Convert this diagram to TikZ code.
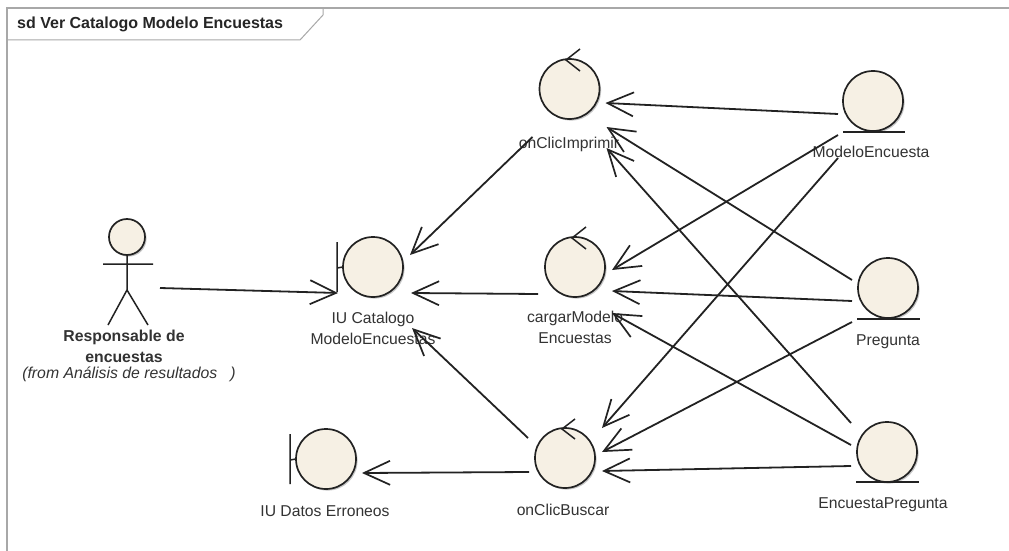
\documentclass[tikz,border=0pt]{standalone}
\usepackage{fontspec}
\setmainfont{Liberation Sans}
\usetikzlibrary{arrows.meta}
\definecolor{fillc}{HTML}{F6F0E4}
\definecolor{linec}{HTML}{222222}
\definecolor{textc}{HTML}{333333}
\definecolor{framec}{HTML}{A8A8A8}
\tikzset{
  ball/.style={circle,draw=linec,line width=1.7pt,fill=fillc,minimum size=60pt,inner sep=0pt,outer sep=0pt,
    preaction={draw=none,fill=black!22,transform canvas={shift={(1.6pt,-1.6pt)}}}},
  head/.style={ball,minimum size=36pt},
  lab/.style={text=textc,font=\fontsize{15.7pt}{18pt}\selectfont,inner sep=0pt,align=center},
  boldlab/.style={lab,font=\fontsize{15.8pt}{21pt}\selectfont\bfseries},
  deco/.style={draw=linec,line width=1.5pt},
  conn/.style={draw=linec,line width=1.8pt,-{Straight Barb[length=26pt,width=24pt,line width=1.7pt]}},
}
\begin{document}
\begin{tikzpicture}[x=1pt,y=-1pt]
\useasboundingbox (0,0) rectangle (1009,551);
\fill[white] (0,0) rectangle (1009,551);
% frame
\coordinate (fa) at (7,551);
\coordinate (fb) at (7,8);
\coordinate (fc) at (1009,8);
\coordinate (ta) at (323,8);
\coordinate (tb) at (323,15);
\coordinate (tc) at (300,40);
\coordinate (td) at (7,40);
\draw[framec,line width=1.2pt] (fa) -- (fb) -- (fc);
\draw[framec,line width=1pt] (ta) -- (tb) -- (tc) -- (td);
\node[lab,anchor=west,font=\fontsize{16pt}{18pt}\selectfont\bfseries,text=black!85] (title) at (17,24) {sd Ver Catalogo Modelo Encuestas};
% labels
\node[boldlab] (lresp) at (124,346) {Responsable de\\encuestas};
\node[lab,font=\fontsize{15.8pt}{18pt}\selectfont\itshape] (lfrom) at (129,374) {(from Análisis de resultados\ \ \ )};
\node[lab,align=center,font=\fontsize{15.7pt}{21pt}\selectfont] (liu) at (373,328) {IU Catalogo\\ModeloEncuestas};
\node[lab] (ldat) at (325,511) {IU Datos Erroneos};
\node[lab] (limp) at (569,144.5) {onClicImprimir};
\node[lab,align=center,font=\fontsize{15.7pt}{21pt}\selectfont] (lcar) at (575,327) {cargarModelo\\Encuestas};
\node[lab] (lbus) at (563,510) {onClicBuscar};
\node[lab] (lmod) at (871,152) {ModeloEncuesta};
\node[lab] (lpre) at (888,342) {Pregunta};
\node[lab] (lenc) at (883,505) {EncuestaPregunta};
% actor
\node[head] (actor) at (127,237) {};
\coordinate (hip) at (127,290);
\coordinate (armL) at (103,264);
\coordinate (armR) at (153,264);
\coordinate (legL) at (108,325);
\coordinate (legR) at (148,325);
\draw[deco] (actor.south) -- (hip) (armL) -- (armR) (legL) -- (hip) -- (legR);
% boundary
\node[ball] (iu) at (373,267) {};
\draw[deco] (337,242) -- (337,292) (337,268) -- (iu.west);
\node[ball] (dat) at (326,459) {};
\draw[deco] (290,434) -- (290,484) (290,460) -- (dat.west);
% control
\node[ball] (imp) at (569.5,89) {};
\draw[deco] (580,49) -- (566,60) -- (580,71);
\node[ball] (car) at (575,267) {};
\draw[deco] (586,227) -- (572,238) -- (586,249);
\node[ball] (bus) at (565,458) {};
\draw[deco] (575,419) -- (562,429) -- (575,439);
% entity
\node[ball] (mod) at (873,101) {};
\draw[deco] (843,132) -- (905,132);
\node[ball] (pre) at (888,288) {};
\draw[deco] (857,319) -- (920,319);
\node[ball] (enc) at (887,452) {};
\draw[deco] (856,482) -- (919,482);
% connectors
\draw[conn] ([shift={(33,51)}]actor.center) -- ([shift={(-35,26)}]iu.center);
\draw[conn] ([shift={(-37,48)}]imp.center) -- ([shift={(37,-12)}]iu.center);
\draw[conn] ([shift={(-37,27)}]car.center) -- ([shift={(38,26)}]iu.center);
\draw[conn] ([shift={(-37,-20)}]bus.center) -- ([shift={(39,61)}]iu.center);
\draw[conn] ([shift={(-36,14)}]bus.center) -- ([shift={(36,14)}]dat.center);
\draw[conn] ([shift={(-35,13)}]mod.center) -- ([shift={(36,14)}]imp.center);
\draw[conn] ([shift={(-35,34)}]mod.center) -- ([shift={(37,3)}]car.center);
\draw[conn] ([shift={(-35,57)}]mod.center) -- ([shift={(37,-30)}]bus.center);
\draw[conn] ([shift={(-36,-8)}]pre.center) -- ([shift={(37,38)}]imp.center);
\draw[conn] ([shift={(-36,13)}]pre.center) -- ([shift={(37,24)}]car.center);
\draw[conn] ([shift={(-36,34)}]pre.center) -- ([shift={(37,-6)}]bus.center);
\draw[conn] ([shift={(-36,-29)}]enc.center) -- ([shift={(37,59)}]imp.center);
\draw[conn] ([shift={(-36,-7)}]enc.center) -- ([shift={(37,46)}]car.center);
\draw[conn] ([shift={(-36,14)}]enc.center) -- ([shift={(37,13)}]bus.center);
\end{tikzpicture}
\end{document}
